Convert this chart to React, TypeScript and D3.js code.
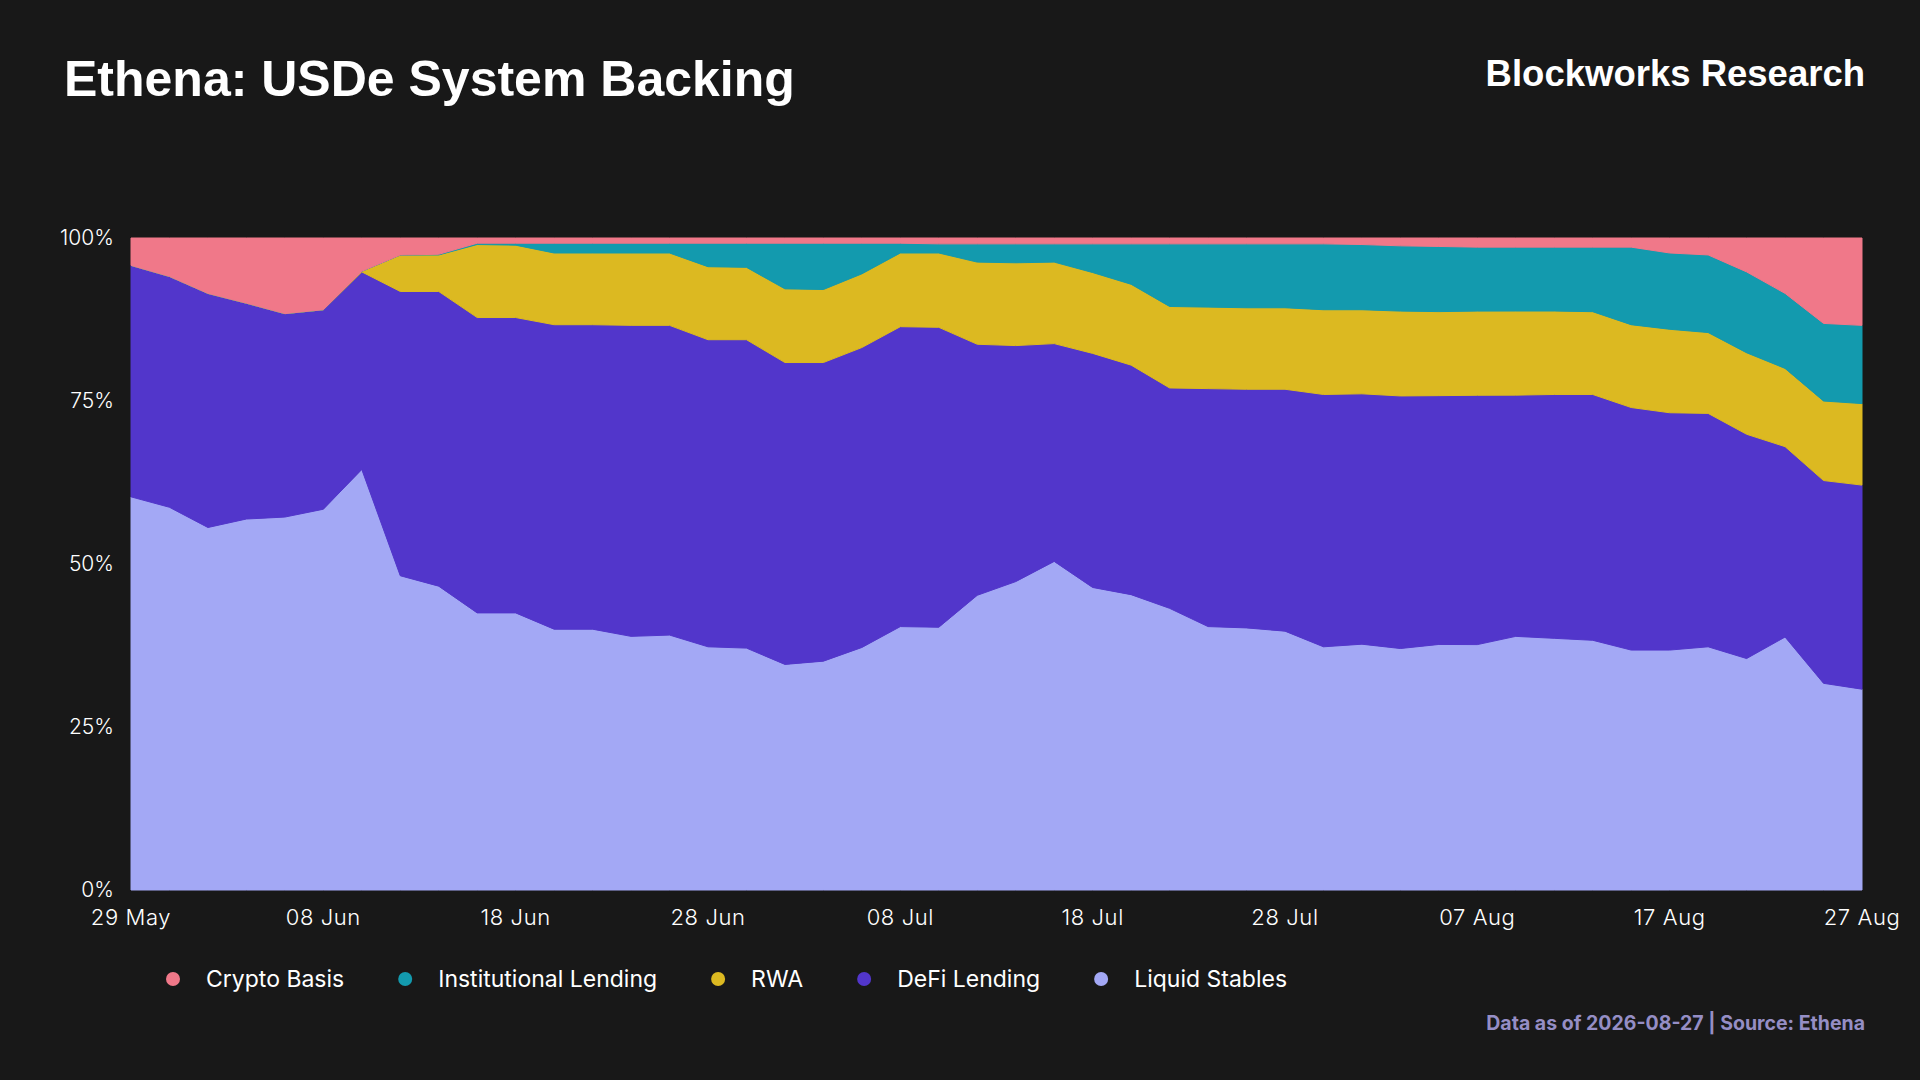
// @ts-nocheck
import React, { useEffect, useRef } from "react";
import * as d3 from "d3";

// one point every 2 days, 29 May -> 27 Aug 2026
const startDate = new Date(2026, 4, 29);
const endDate = new Date(2026, 7, 28);

const liquidStables = [60.3, 58.7, 55.6, 56.9, 57.2, 58.4, 64.5, 48.2, 46.6, 42.5, 42.5, 40.0, 40.0, 38.9, 39.1, 37.3, 37.1, 34.6, 35.1, 37.2, 40.4, 40.3, 45.2, 47.3, 50.4, 46.4, 45.3, 43.2, 40.4, 40.2, 39.7, 37.3, 37.7, 37.0, 37.7, 37.6, 38.9, 38.6, 38.3, 36.8, 36.8, 37.3, 35.5, 38.8, 31.7, 30.8];
const defiLending = [35.5, 35.4, 35.9, 33.1, 31.2, 30.6, 30.3, 43.6, 45.2, 45.3, 45.3, 46.7, 46.7, 47.7, 47.5, 47.1, 47.3, 46.3, 45.8, 46.0, 46.0, 46.0, 38.5, 36.2, 33.4, 35.9, 35.2, 33.8, 36.5, 36.6, 37.1, 38.7, 38.4, 38.7, 38.2, 38.2, 37.0, 37.4, 37.7, 37.2, 36.4, 35.8, 34.4, 29.2, 31.1, 31.3];
const rwa = [0, 0, 0, 0, 0, 0, 0.1, 5.6, 5.6, 11.2, 11.1, 11.0, 11.0, 11.1, 11.1, 11.2, 11.1, 11.3, 11.2, 11.3, 11.3, 11.4, 12.6, 12.7, 12.5, 12.4, 12.4, 12.5, 12.5, 12.5, 12.5, 13.0, 12.9, 13.0, 12.9, 12.9, 12.9, 12.8, 12.7, 12.7, 12.8, 12.4, 12.5, 12.0, 12.2, 12.5];
const institutionalLending = [0, 0, 0, 0, 0, 0, 0, 0, 0.1, 0.2, 0.3, 1.5, 1.5, 1.5, 1.5, 3.6, 3.7, 7.0, 7.1, 4.7, 1.5, 1.4, 2.8, 2.9, 2.8, 4.4, 6.2, 9.6, 9.7, 9.8, 9.8, 10.1, 10.0, 10.0, 10.0, 9.8, 9.8, 9.8, 9.9, 11.9, 11.7, 11.9, 12.4, 11.5, 11.9, 12.0];
const cryptoBasis = [4.2, 5.9, 8.5, 10.0, 11.6, 11.0, 5.1, 2.6, 2.5, 0.8, 0.8, 0.8, 0.8, 0.8, 0.8, 0.8, 0.8, 0.8, 0.8, 0.8, 0.8, 0.9, 0.9, 0.9, 0.9, 0.9, 0.9, 0.9, 0.9, 0.9, 0.9, 0.9, 1.0, 1.2, 1.3, 1.4, 1.4, 1.4, 1.4, 1.4, 2.3, 2.6, 5.2, 8.5, 13.1, 13.4];

// bottom -> top
const seriesKeys = ["Liquid Stables", "DeFi Lending", "RWA", "Institutional Lending", "Crypto Basis"];
const seriesValues = [liquidStables, defiLending, rwa, institutionalLending, cryptoBasis];
const seriesColors = ["#a3a8f5", "#5236cb", "#dcb921", "#139aae", "#f07889"];

const yTicks = [0, 0.25, 0.5, 0.75, 1];

export default function App() {
  const svgRef = useRef(null);

  useEffect(() => {
    document.body.style.margin = "0";
    document.body.style.background = "#181818";

    const width = 1920;
    const height = 1080;
    const margin = { top: 238, right: 58, bottom: 190, left: 131 };

    const svg = d3.select(svgRef.current);
    svg.selectAll("*").remove();

    const dates = d3.timeDay.range(startDate, endDate, 2);
    const rows = dates.map((date, i) => {
      const row = { date };
      seriesKeys.forEach((k, j) => (row[k] = seriesValues[j][i]));
      return row;
    });

    const stacked = d3.stack().keys(seriesKeys).offset(d3.stackOffsetExpand)(rows);

    const x = d3
      .scaleTime()
      .domain(d3.extent(dates))
      .range([margin.left, width - margin.right]);

    const y = d3
      .scaleLinear()
      .domain([0, 1])
      .range([height - margin.bottom, margin.top]);

    svg.append("rect").attr("width", width).attr("height", height).attr("fill", "#181818");

    // Title + brand
    svg.append("text")
      .attr("x", 64)
      .attr("y", 96)
      .attr("fill", "#ffffff")
      .attr("font-family", "'Liberation Sans', Arial, sans-serif")
      .attr("font-weight", 700)
      .attr("font-size", 50)
      .text("Ethena: USDe System Backing");

    svg.append("text")
      .attr("x", 1865)
      .attr("y", 86)
      .attr("text-anchor", "end")
      .attr("fill", "#ffffff")
      .attr("font-family", "'Liberation Sans', Arial, sans-serif")
      .attr("font-weight", 700)
      .attr("font-size", 36.5)
      .text("Blockworks Research");

    // Areas
    const area = d3
      .area()
      .x((d) => x(d.data.date))
      .y0((d) => y(d[0]))
      .y1((d) => y(d[1]));

    svg.append("g")
      .selectAll("path")
      .data(stacked)
      .join("path")
      .attr("fill", (d, i) => seriesColors[i])
      .attr("stroke", (d, i) => seriesColors[i])
      .attr("stroke-width", 1)
      .attr("d", area);

    // Y axis labels
    svg.append("g")
      .selectAll("text")
      .data(yTicks)
      .join("text")
      .attr("x", 114)
      .attr("y", (d) => y(d))
      .attr("dy", "0.35em")
      .attr("text-anchor", "end")
      .attr("fill", "#ffffff")
      .attr("font-family", "Inter, sans-serif")
      .attr("font-weight", 300)
      .attr("font-size", 21)
      .text((d) => d3.format(".0%")(d));

    // X axis labels
    const xTicks = d3.timeDay.range(startDate, endDate, 10);
    svg.append("g")
      .selectAll("text")
      .data(xTicks)
      .join("text")
      .attr("x", (d) => x(d))
      .attr("y", 925)
      .attr("text-anchor", "middle")
      .attr("fill", "#ffffff")
      .attr("font-family", "Inter, sans-serif")
      .attr("font-weight", 300)
      .attr("font-size", 22)
      .attr("letter-spacing", 0.6)
      .text((d) => d3.timeFormat("%d %b")(d));

    // Legend (top -> bottom order)
    const legend = svg.append("g");
    let lx = 173;
    const ly = 979;
    [...seriesKeys].reverse().forEach((k) => {
      const idx = seriesKeys.indexOf(k);
      legend.append("circle")
        .attr("cx", lx)
        .attr("cy", ly)
        .attr("r", 7)
        .attr("fill", seriesColors[idx]);
      const t = legend.append("text")
        .attr("x", lx + 33)
        .attr("y", ly)
        .attr("dy", "0.35em")
        .attr("fill", "#ffffff")
        .attr("font-family", "Inter, sans-serif")
        .attr("font-size", 23)
        .text(k);
      lx += 33 + t.node().getComputedTextLength() + 61;
    });

    // Footer
    svg.append("text")
      .attr("x", 1865)
      .attr("y", 1030)
      .attr("text-anchor", "end")
      .attr("fill", "#958ec5")
      .attr("font-family", "Inter, sans-serif")
      .attr("font-weight", 700)
      .attr("font-size", 19.5)
      .text("Data as of 2026-08-27 | Source: Ethena");
  }, []);

  return <svg ref={svgRef} width={1920} height={1080} style={{ display: "block" }}></svg>;
}
